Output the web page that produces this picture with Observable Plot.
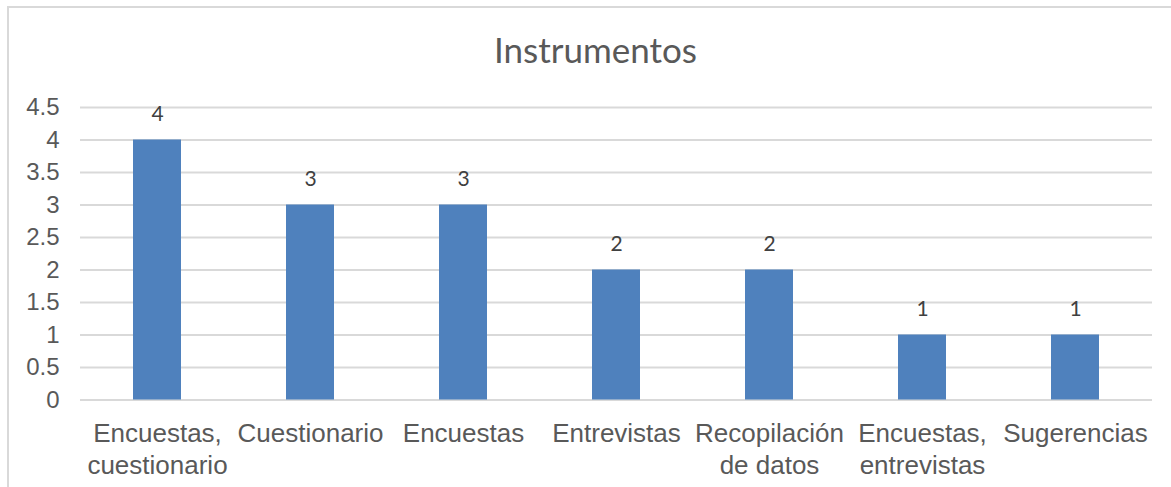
<!DOCTYPE html>
<html>
<head>
<meta charset="utf-8">
<script src="https://cdn.jsdelivr.net/npm/d3@7"></script>
<script src="https://cdn.jsdelivr.net/npm/@observablehq/plot@0.6"></script>
<style>
  html, body { margin: 0; padding: 0; background: #fff; overflow: hidden; }
  #wrap { position: relative; width: 1171px; height: 487px; }
  #border { position: absolute; left: 7px; top: 6px; width: 3000px; height: 3000px; border: 2px solid #d9d9d9; box-sizing: border-box; }
  #chart { position: absolute; left: 0; top: 0; }
</style>
</head>
<body>
<div id="wrap"><div id="border"></div><div id="chart"></div></div>
<script>
const title = "Instrumentos";
const categories = ["Encuestas,\ncuestionario", "Cuestionario", "Encuestas", "Entrevistas", "Recopilación\nde datos", "Encuestas,\nentrevistas", "Sugerencias"];
const values = [4, 3, 3, 2, 2, 1, 1];
const yTicks = [0, 0.5, 1, 1.5, 2, 2.5, 3, 3.5, 4, 4.5];

const data = categories.map((c, i) => ({cat: c, value: values[i]}));

const chart = Plot.plot({
  width: 1171,
  height: 487,
  marginLeft: 80,
  marginRight: 19,
  marginTop: 107,
  marginBottom: 87.5,
  style: {background: "transparent", color: "#595959", fontFamily: "'Liberation Sans', Arial, sans-serif"},
  x: {domain: categories, paddingInner: 0.686, paddingOuter: 0.343, label: null},
  y: {domain: [0, 4.5], label: null},
  marks: [
    Plot.ruleY(yTicks, {stroke: "#d9d9d9", strokeWidth: 2}),
    Plot.barY(data, {x: "cat", y: "value", fill: "#4f81bd"}),
    Plot.text(data, {x: "cat", y: "value", text: d => String(d.value), dy: -25.5, fontSize: 21, fontFamily: "Lato, 'Open Sans', sans-serif", fill: "#404040"}),
    Plot.axisY({ticks: yTicks, tickSize: 0, tickPadding: 21, fontSize: 24, tickFormat: d => String(d), label: null}),
    Plot.axisX({tickSize: 0, tickPadding: 19, fontSize: 26, lineHeight: 1.23, label: null}),
    Plot.text([title], {frameAnchor: "top", lineAnchor: "top", dx: -21, dy: -69, fontSize: 35, fontFamily: "Lato, 'Open Sans', sans-serif", fill: "#595959"})
  ]
});
document.getElementById("chart").appendChild(chart);
</script>
</body>
</html>
